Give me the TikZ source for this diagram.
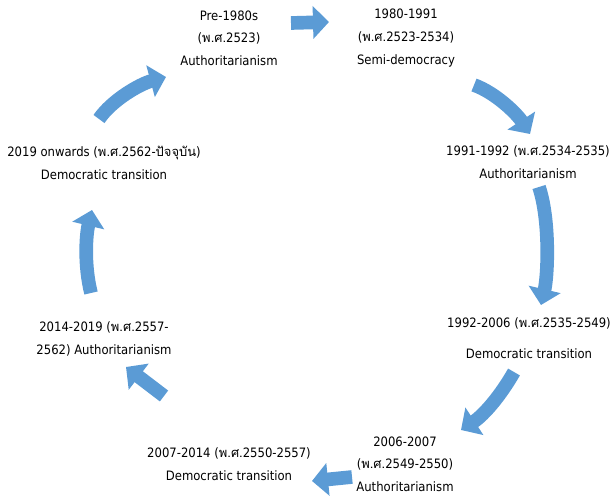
\documentclass[tikz,border=0pt]{standalone}
\usepackage{fontspec}
\setmainfont{DejaVu Sans Condensed}
\newfontfamily\thaifont[Script=Thai]{Loma}
\usetikzlibrary{arrows.meta}
\definecolor{arrowblue}{HTML}{5B9BD5}
\tikzstyle{period} = [align=center, inner sep=0pt, font=\fontsize{9.7}{17}\selectfont]
\tikzstyle{cyclearrow} = [draw=arrowblue, line width=10.25pt, -{Triangle[length=12pt,width=24pt]}]
\newcommand{\ps}{{\thaifont พ.ศ.}}
\newcommand{\now}{{\thaifont ปัจจุบัน}}

\begin{document}
\begin{tikzpicture}[x=0.75pt, y=-0.75pt]
\useasboundingbox (0,0) rectangle (611,498);
% periods
\node [period] (pre)   at (229,38)  {Pre-1980s\\(\ps2523)\\Authoritarianism};
\node [period] (semi)  at (406,38)  {1980-1991\\(\ps2523-2534)\\Semi-democracy};
\node [period] (auth1) at (528,162) {1991-1992 (\ps2534-2535)\\Authoritarianism};
\node [period] (demo1) at (529,338) {1992-2006 (\ps2535-2549)\\[6pt]Democratic transition};
\node [period] (auth2) at (405,464) {2006-2007\\(\ps2549-2550)\\Authoritarianism};
\node [period] (demo2) at (229,464) {2007-2014 (\ps2550-2557)\\Democratic transition};
\node [period] (auth3) at (104,339) {2014-2019 (\ps2557-\\2562) Authoritarianism};
\node [period] (demo3) at (104,163) {2019 onwards (\ps2562-\now)\\Democratic transition};
% arrow ends
\coordinate (a1s) at (291,23);  \coordinate (a1e) at (329,22);
\coordinate (a2s) at (474,85);  \coordinate (a2e) at (530,134);
\coordinate (a3s) at (539,187); \coordinate (a3e) at (541,305);
\coordinate (a4s) at (514,372); \coordinate (a4e) at (461,430);
\coordinate (a5s) at (352,477); \coordinate (a5e) at (312,481);
\coordinate (a6s) at (164,396); \coordinate (a6e) at (126,367);
\coordinate (a7s) at (91,293);  \coordinate (a7e) at (92,210);
\coordinate (a8s) at (99,119);  \coordinate (a8e) at (166,77);
% arrows
\draw [cyclearrow] (a1s) -- (a1e);
\draw [cyclearrow] (a2s) .. controls (496,93) and (517,114) .. (a2e);
\draw [cyclearrow] (a3s) .. controls (550,220) and (548,275) .. (a3e);
\draw [cyclearrow] (a4s) .. controls (501,395) and (484,415) .. (a4e);
\draw [cyclearrow] (a5s) -- (a5e);
\draw [cyclearrow] (a6s) -- (a6e);
\draw [cyclearrow] (a7s) .. controls (84,265) and (86,235) .. (a7e);
\draw [cyclearrow] (a8s) .. controls (112,100) and (140,84) .. (a8e);
\end{tikzpicture}
\end{document}
